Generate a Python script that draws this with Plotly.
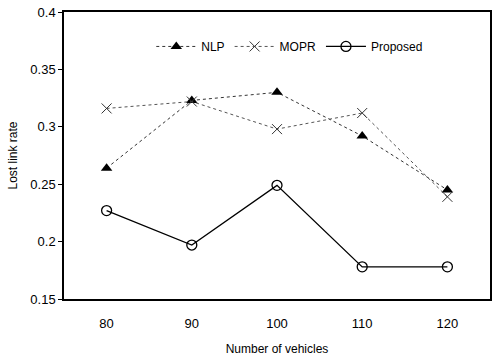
import plotly.graph_objects as go

vehicles = [80, 90, 100, 110, 120]
nlp = [0.264, 0.323, 0.330, 0.292, 0.245]
mopr = [0.316, 0.322, 0.298, 0.312, 0.239]
proposed = [0.227, 0.197, 0.249, 0.178, 0.178]
y_ticks = [0.15, 0.2, 0.25, 0.3, 0.35, 0.4]
y_tick_text = ["0.15", "0.2", "0.25", "0.3", "0.35", "0.4"]

fig = go.Figure()
fig.add_trace(go.Scatter(x=vehicles, y=nlp, name="NLP", mode="lines+markers",
                         line=dict(color="#333333", width=1, dash="dot"),
                         marker=dict(symbol="triangle-up", size=10, color="black")))
fig.add_trace(go.Scatter(x=vehicles, y=mopr, name="MOPR", mode="lines+markers",
                         line=dict(color="#555555", width=1, dash="dot"),
                         marker=dict(symbol="x-thin", size=10, color="#333333",
                                     line=dict(color="#333333", width=1))))
fig.add_trace(go.Scatter(x=vehicles, y=proposed, name="Proposed", mode="lines+markers",
                         line=dict(color="black", width=1.3),
                         marker=dict(symbol="circle-open", size=10, color="black",
                                     line=dict(width=1.3))))

fig.update_layout(
    width=492, height=360,
    margin=dict(l=64, r=0, t=12, b=61),
    plot_bgcolor="white", paper_bgcolor="white",
    font=dict(family="Liberation Sans, Arial", size=13, color="black"),
    showlegend=True,
    legend=dict(orientation="h", x=0.53, y=0.88, xanchor="center", yanchor="middle",
                font=dict(size=12), bgcolor="rgba(0,0,0,0)", itemwidth=40),
    xaxis=dict(range=[75, 125], tickvals=vehicles, ticktext=[str(v) for v in vehicles],
               showgrid=False, zeroline=False, showline=True, linecolor="black", linewidth=1.5,
               mirror=True, ticks="", ticklabelstandoff=12,
               title=dict(text="Number of vehicles", font=dict(size=12), standoff=14)),
    yaxis=dict(range=[0.15, 0.4], tickvals=y_ticks, ticktext=y_tick_text,
               showgrid=False, zeroline=False, showline=True, linecolor="black", linewidth=1.5,
               mirror=True, ticks="outside", ticklen=4, tickcolor="black",
               title=dict(text="Lost link rate", font=dict(size=12), standoff=10)),
)

fig.write_html("out.html")
